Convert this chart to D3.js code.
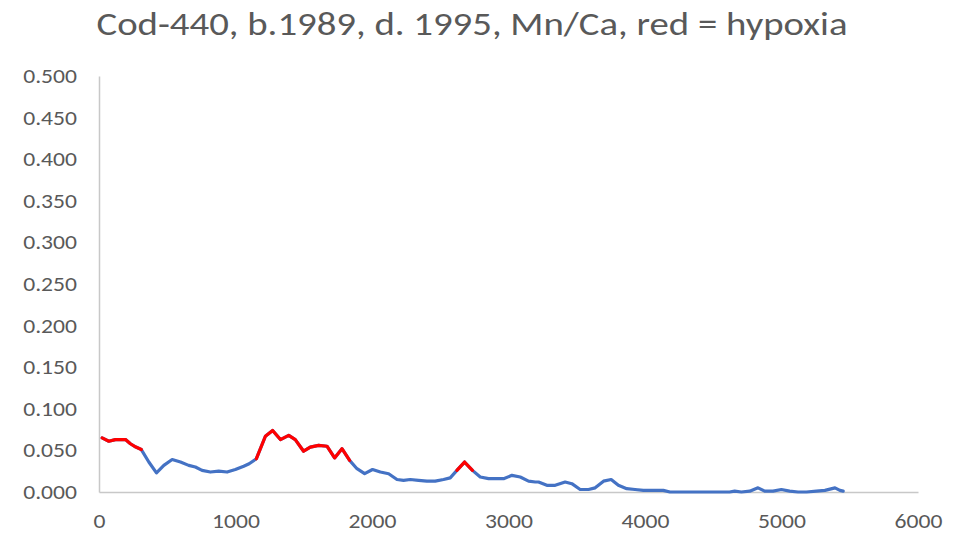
<!DOCTYPE html>
<html>
<head>
<meta charset="utf-8">
<script src="https://cdn.jsdelivr.net/npm/d3@7"></script>
<style>
  body { margin: 0; background: #fff; }
  svg { display: block; }
</style>
</head>
<body>
<svg id="chart" width="972" height="537"></svg>
<script>
const titleText = "Cod-440, b.1989, d. 1995, Mn/Ca, red = hypoxia";

// distance along otolith
const distance = [
  23, 72, 120, 194, 230, 270, 310, 365, 421, 475, 536, 597, 657, 706, 755, 816, 877, 938, 999, 1060,
  1100, 1153, 1219, 1272, 1329, 1390, 1438, 1499, 1548, 1609, 1670, 1726, 1780, 1836, 1890, 1946, 2004, 2061, 2122, 2183,
  2231, 2280, 2341, 2402, 2463, 2524, 2573, 2622, 2678, 2736, 2793, 2854, 2915, 2964, 3025, 3086, 3147, 3196, 3220, 3281,
  3342, 3415, 3464, 3525, 3586, 3635, 3696, 3752, 3805, 3866, 3927, 3988, 4049, 4134, 4183, 4257, 4350, 4450, 4550, 4620,
  4657, 4706, 4767, 4828, 4877, 4938, 4999, 5060, 5121, 5183, 5256, 5318, 5392, 5428, 5452
];
// Mn/Ca ratio
const mnca = [
  0.065, 0.061, 0.063, 0.063, 0.058, 0.054, 0.051, 0.036, 0.023, 0.032, 0.039, 0.036, 0.032, 0.030, 0.026, 0.024, 0.025, 0.024, 0.027, 0.031,
  0.034, 0.040, 0.067, 0.074, 0.063, 0.068, 0.063, 0.049, 0.054, 0.056, 0.055, 0.041, 0.052, 0.038, 0.028, 0.022, 0.027, 0.024, 0.022, 0.015,
  0.014, 0.015, 0.014, 0.013, 0.013, 0.015, 0.017, 0.026, 0.036, 0.026, 0.018, 0.016, 0.016, 0.016, 0.020, 0.018, 0.013, 0.012, 0.012, 0.008,
  0.008, 0.012, 0.010, 0.003, 0.003, 0.005, 0.013, 0.015, 0.008, 0.004, 0.003, 0.002, 0.002, 0.002, 0.000, 0.000, 0.000, 0.000, 0.000, 0.000,
  0.001, 0.000, 0.001, 0.005, 0.001, 0.001, 0.003, 0.001, 0.000, 0.000, 0.001, 0.002, 0.005, 0.002, 0.001
];
// 1 = hypoxia (drawn red)
const hypoxia = [
  1, 1, 1, 1, 1, 1, 1, 0, 0, 0, 0, 0, 0, 0, 0, 0, 0, 0, 0, 0,
  0, 1, 1, 1, 1, 1, 1, 1, 1, 1, 1, 1, 1, 1, 0, 0, 0, 0, 0, 0,
  0, 0, 0, 0, 0, 0, 0, 1, 1, 1, 0, 0, 0, 0, 0, 0, 0, 0, 0, 0,
  0, 0, 0, 0, 0, 0, 0, 0, 0, 0, 0, 0, 0, 0, 0, 0, 0, 0, 0, 0,
  0, 0, 0, 0, 0, 0, 0, 0, 0, 0, 0, 0, 0, 0, 0
];
const xTicks = [0, 1000, 2000, 3000, 4000, 5000, 6000];
const yTicks = [0, 0.05, 0.1, 0.15, 0.2, 0.25, 0.3, 0.35, 0.4, 0.45, 0.5];

const svg = d3.select("#chart");
const plotLeft = 99, plotRight = 918, plotTop = 76, plotBottom = 492;

const x = d3.scaleLinear().domain([0, 6000]).range([plotLeft, plotRight]);
const y = d3.scaleLinear().domain([0, 0.5]).range([plotBottom, plotTop]);

const font = "Carlito, Calibri, 'Open Sans', sans-serif";
const stretch = 1.18; // glyphs in the picture are a bit wider than tall

// title
svg.append("text")
  .attr("x", 472)
  .attr("y", 35)
  .attr("text-anchor", "middle")
  .attr("font-family", font)
  .attr("font-size", 33)
  .attr("fill", "#595959")
  .text(titleText)
  .attr("textLength", 751)
  .attr("lengthAdjust", "spacingAndGlyphs");

// axes
const yAxis = svg.append("g")
  .attr("transform", `translate(${plotLeft},0)`)
  .call(d3.axisLeft(y).tickValues(yTicks).tickFormat(d3.format(".3f")).tickSize(0).tickPadding(22));
const xAxis = svg.append("g")
  .attr("transform", `translate(0,${plotBottom})`)
  .call(d3.axisBottom(x).tickValues(xTicks).tickFormat(d3.format("d")).tickSize(0).tickPadding(22));

[yAxis, xAxis].forEach(g => {
  g.select(".domain").attr("stroke", "#c8c8c8").attr("stroke-width", 1.5);
  g.selectAll("text")
    .attr("font-family", font)
    .attr("font-size", 20)
    .attr("fill", "#595959")
    .each(function() {
      const w = this.getComputedTextLength();
      d3.select(this).attr("textLength", w * stretch).attr("lengthAdjust", "spacingAndGlyphs");
    });
});

// line segments
const line = d3.line().x(i => x(distance[i])).y(i => y(mnca[i]));
const idx = d3.range(distance.length);

svg.append("path")
  .attr("d", line(idx))
  .attr("fill", "none")
  .attr("stroke", "#4472c4")
  .attr("stroke-width", 3.2)
  .attr("stroke-linejoin", "round")
  .attr("stroke-linecap", "round");

// red runs of hypoxia
const runs = [];
let cur = null;
idx.forEach(i => {
  if (hypoxia[i]) {
    if (!cur) { cur = []; runs.push(cur); }
    cur.push(i);
  } else cur = null;
});

svg.selectAll("path.hyp")
  .data(runs)
  .enter()
  .append("path")
  .attr("class", "hyp")
  .attr("d", d => line(d))
  .attr("fill", "none")
  .attr("stroke", "#ff0000")
  .attr("stroke-width", 3.2)
  .attr("stroke-linejoin", "round")
  .attr("stroke-linecap", "round");
</script>
</body>
</html>
